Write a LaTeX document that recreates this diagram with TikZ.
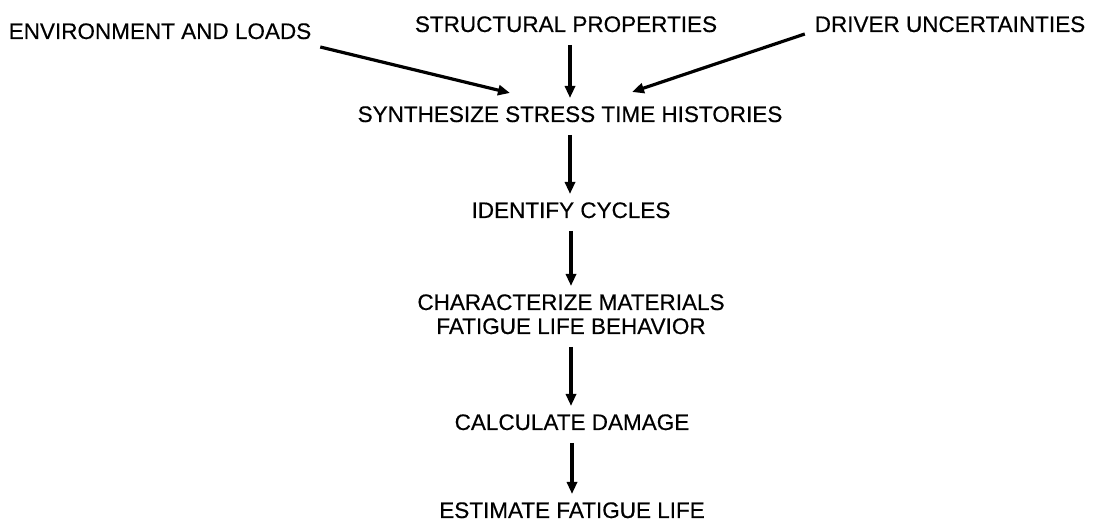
\documentclass[tikz,border=0pt]{standalone}
\usepackage{fontspec}
\setmainfont{Liberation Sans}[FakeBold=0.4]
\usetikzlibrary{arrows.meta}
\begin{document}
\begin{tikzpicture}[x=1pt,y=1pt,
  label/.style={inner sep=0pt, outer sep=0pt,
    font=\fontsize{22.5}{24}\selectfont, text height=16pt, text depth=0pt},
  flow/.style={line width=3.4pt, -{Triangle[length=12pt,width=10pt]},
    shorten <=13pt, shorten >=8pt},
  feed/.style={line width=3.2pt, -{Triangle[length=12pt,width=10pt]}}]
\useasboundingbox (0,0) rectangle (1101,525);

% inputs along the top
\node[label] (env) at (160,494) {ENVIRONMENT AND LOADS};
\node[label] (str) at (566,501) {STRUCTURAL PROPERTIES};
\node[label] (drv) at (950,501) {DRIVER UNCERTAINTIES};

% main chain of steps
\node[label] (syn) at (570,411) {SYNTHESIZE STRESS TIME HISTORIES};
\node[label] (idn) at (571,315) {IDENTIFY CYCLES};
\node[label] (chr) at (571,223) {CHARACTERIZE MATERIALS};
\node[label] (fat) at (571,199) {FATIGUE LIFE BEHAVIOR};
\node[label] (cal) at (572,103) {CALCULATE DAMAGE};
\node[label] (est) at (572,15) {ESTIMATE FATIGUE LIFE};

% inputs feeding the synthesis
\draw[feed] ([shift={(9pt,-8pt)}]env.south east) -- ([shift={(-60pt,13pt)}]syn.north);
\draw[flow] (str.south -| syn.north) -- (syn.north);
\draw[feed] ([shift={(-10pt,-2pt)}]drv.south west) -- ([shift={(62pt,14pt)}]syn.north);

% vertical flow
\draw[flow] (syn.south) -- (syn.south |- idn.north);
\draw[flow] (idn.south) -- (idn.south |- chr.north);
\draw[flow] (fat.south) -- (fat.south |- cal.north);
\draw[flow] (cal.south) -- (cal.south |- est.north);
\end{tikzpicture}
\end{document}
